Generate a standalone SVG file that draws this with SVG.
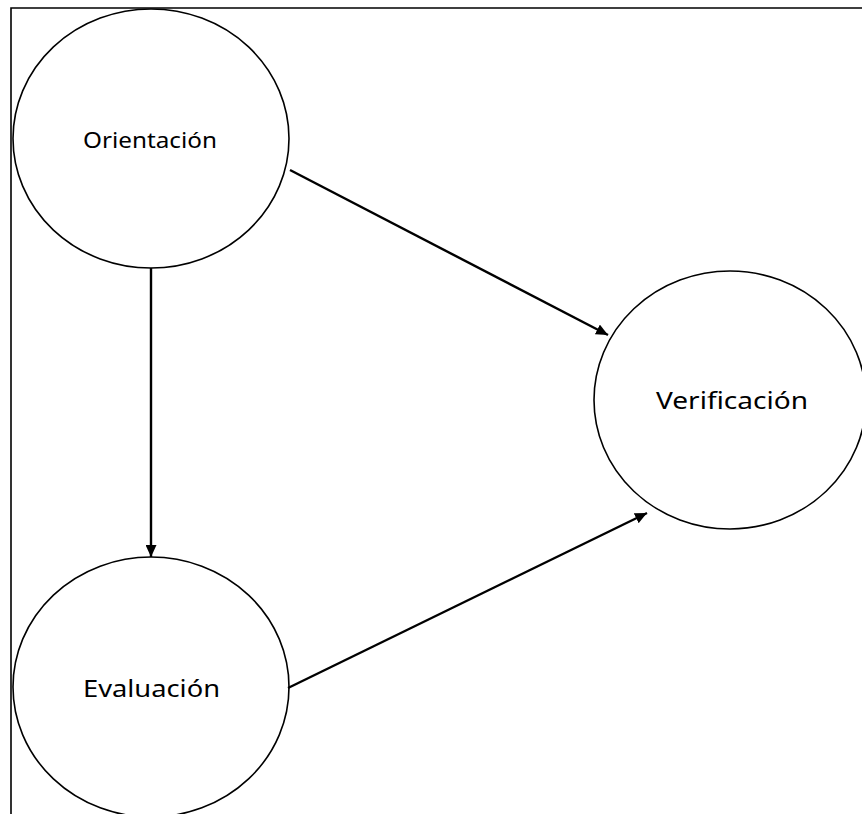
<svg xmlns="http://www.w3.org/2000/svg" width="862" height="814" viewBox="0 0 862 814">
  <style>
    .node { fill: #ffffff; stroke: #000000; stroke-width: 1.6; }
    .label { font-family: "Noto Sans", "Liberation Sans", sans-serif; fill: #000000; text-anchor: middle; }
    .edge { stroke: #000000; stroke-width: 2.4; fill: none; marker-end: url(#arrow); }
    .frame { stroke: #000000; stroke-width: 1.6; fill: none; }
  </style>
  <defs>
    <marker id="arrow" markerUnits="userSpaceOnUse" markerWidth="12" markerHeight="11" refX="12" refY="5.5" orient="auto">
      <path d="M0,0 L12,5.5 L0,11 Z" fill="#000000"/>
    </marker>
  </defs>
  <rect width="862" height="814" fill="#ffffff"/>
  <!-- outer frame: top and left edges -->
  <path class="frame" d="M11,814 L11,8 L862,8"/>

  <g id="orientacion">
    <ellipse class="node" cx="151" cy="138.5" rx="138" ry="129.5"/>
    <text class="label" x="150" y="148" font-size="21" textLength="134" lengthAdjust="spacingAndGlyphs">Orientación</text>
  </g>
  <g id="verificacion">
    <ellipse class="node" cx="730" cy="400" rx="136" ry="129"/>
    <text class="label" x="732" y="409" font-size="24" textLength="152" lengthAdjust="spacingAndGlyphs">Verificación</text>
  </g>
  <g id="evaluacion">
    <ellipse class="node" cx="151" cy="687" rx="138" ry="130"/>
    <text class="label" x="151.5" y="697" font-size="24" textLength="137" lengthAdjust="spacingAndGlyphs">Evaluación</text>
  </g>

  <g id="connectors">
    <line class="edge" x1="151" y1="268" x2="151" y2="557"/>
    <line class="edge" x1="290" y1="170" x2="608" y2="335"/>
    <line class="edge" x1="288" y1="688" x2="647" y2="513"/>
  </g>
</svg>
